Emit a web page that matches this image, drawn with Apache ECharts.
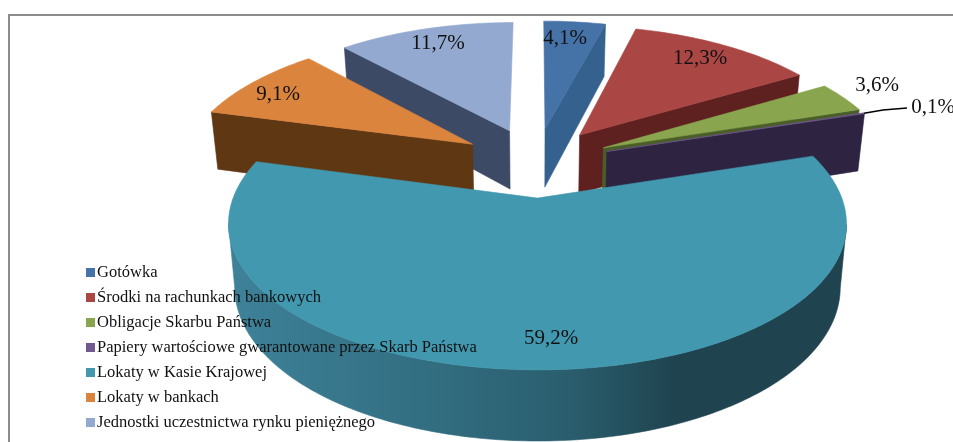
<!DOCTYPE html>
<html><head><meta charset="utf-8">
<style>html,body{margin:0;padding:0;background:#fff}#c{width:953px;height:442px}</style>
<script src="https://cdn.jsdelivr.net/npm/echarts@6/dist/echarts.min.js"></script>
</head><body><div id="c"></div>
<script>
// ---- data ----
const categories = ['Gotówka','Środki na rachunkach bankowych','Obligacje Skarbu Państwa','Papiery wartościowe gwarantowane przez Skarb Państwa','Lokaty w Kasie Krajowej','Lokaty w bankach','Jednostki uczestnictwa rynku pieniężnego'];
const values = [4.1, 12.3, 3.6, 0.1, 59.2, 9.1, 11.7];
const valueLabels = ['4,1%','12,3%','3,6%','0,1%','59,2%','9,1%','11,7%'];

// ---- styles / layout ----
const topColors  = ['#4572A7','#AA4643','#89A54E','#71588F','#4198AF','#DB843D','#93A9CF'];
const cutColors  = ['#35618F','#5F2120','#4A5E2A','#2E2340','#2F6B7F','#5F3813','#3C4A66'];
const rimStops = [{offset:0,color:'#3E8299'},{offset:0.3,color:'#336F83'},{offset:0.55,color:'#2A5E6E'},{offset:0.72,color:'#1F4450'},{offset:1,color:'#1F4450'}];
const labelXY = [[565,38],[700,58],[877,85],[933,107],[551,338],[278,94],[438,43]];
const FONT = '"Liberation Serif","Times New Roman",serif';
const CX = 535.7, CY = 162, R = 291.3, H = 133.4, K = 0.152, KX = 0.165, EXPLODE = 0.26, DEPTH = 60, TAPER = 0.02;

const total = values.reduce((a,b)=>a+b,0);
const starts = []; values.reduce((acc,v,i)=>{starts[i]=acc;return acc+v;},0);
const ang = v => v/total*Math.PI*2;

function project(x,y,z){
  const s = 1/(1+K*y), sx = 1/(1+KX*y);
  return [CX+R*x*sx*(1-TAPER*z), CY-H*y*s+DEPTH*z*Math.pow(s,0.8)];
}
function quadStrip(pts){
  return pts.map(p=>project(p[0],p[1],0)).concat(pts.slice().reverse().map(p=>project(p[0],p[1],1)));
}
function wallElement(pts,fill){
  return {type:'polygon',shape:{points:quadStrip(pts)},style:{fill,stroke:fill,lineWidth:0.6},silent:true};
}
function renderSlice(i){
  return function(params,api){
    const v = api.value(0);
    const a0 = ang(starts[i]), a1 = a0+ang(v), mid=(a0+a1)/2;
    const ox = EXPLODE*Math.sin(mid), oy = EXPLODE*Math.cos(mid);
    const apex = [ox,oy];
    const n = Math.max(2,Math.ceil((a1-a0)/(Math.PI/180)));
    const arc = [];
    for(let k=0;k<=n;k++){const a=a0+(a1-a0)*k/n;arc.push([ox+Math.sin(a),oy+Math.cos(a)]);}
    const dx=(p,q)=>project(q[0],q[1],0)[0]-project(p[0],p[1],0)[0];
    const kids=[];
    if(dx(apex,arc[0])<-5) kids.push(wallElement([apex,arc[0]],cutColors[i]));
    if(dx(arc[n],apex)<-5) kids.push(wallElement([arc[n],apex],cutColors[i]));
    let run=[];
    const flush=()=>{ if(run.length>1){
        const fill={type:'linear',x:0,y:0,x2:1,y2:0,colorStops:rimStops};
        kids.push(wallElement(run,fill)); } run=[]; };
    for(let k=0;k<n;k++){
      if(dx(arc[k],arc[k+1])<0){ if(!run.length) run.push(arc[k]); run.push(arc[k+1]); }
      else flush();
    }
    flush();
    const top=[apex].concat(arc).map(p=>project(p[0],p[1],0));
    kids.push({type:'polygon',shape:{points:top},style:{fill:topColors[i],stroke:topColors[i],lineWidth:0.6},silent:true});
    if(i===3){
      const e=project(ox+Math.sin(mid),oy+Math.cos(mid),0);
      kids.push({type:'polyline',shape:{points:[e,[883,110],[907,108]]},style:{fill:null,stroke:'#000',lineWidth:1.5},silent:true});
    }
    kids.push({type:'text',style:{text:valueLabels[i],x:labelXY[i][0],y:labelXY[i][1],align:'center',verticalAlign:'middle',font:'21px '+FONT,fill:'#111'},silent:true});
    return {type:'group',children:kids};
  };
}

// paint far slices first
const midCos = values.map((v,i)=>Math.cos(ang(starts[i])+ang(v)/2));
const order = values.map((_,i)=>i).sort((a,b)=>midCos[b]-midCos[a]);

const series = order.map((i,rank)=>({
  type:'custom',name:categories[i],coordinateSystem:'none',z:2+rank,silent:true,clip:false,
  itemStyle:{color:topColors[i]},
  data:[{name:categories[i],value:values[i]}],
  renderItem:renderSlice(i)
}));

const chart = echarts.init(document.getElementById('c'),null,{renderer:'canvas'});
chart.setOption({
  animation:false,backgroundColor:'#fff',
  graphic:[{type:'rect',z:0,silent:true,shape:{x:9,y:15,width:1000,height:500},style:{fill:'none',stroke:'#8C8C8C',lineWidth:2}}],
  legend:{show:true,z:30,orient:'vertical',left:86,top:264,data:categories,icon:'rect',itemWidth:9,itemHeight:9,itemGap:8,selectedMode:false,padding:0,
    textStyle:{fontFamily:FONT,fontSize:16.5,color:'#111',padding:[0,0,0,-3],lineHeight:17}},
  series
});
</script></body></html>
